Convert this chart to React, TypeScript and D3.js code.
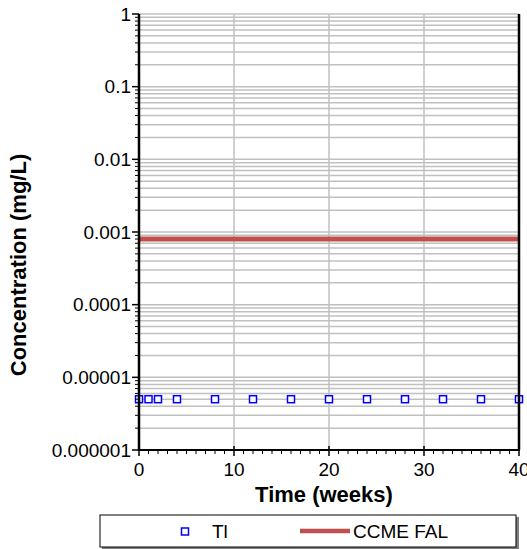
import React from "react";
import * as d3 from "d3";

const weeks = [0, 1, 2, 4, 8, 12, 16, 20, 24, 28, 32, 36, 40];
const tlValues = [0.000005, 0.000005, 0.000005, 0.000005, 0.000005, 0.000005, 0.000005, 0.000005, 0.000005, 0.000005, 0.000005, 0.000005, 0.000005];
const ccmeFal = 0.0008;
const xTicks = [0, 10, 20, 30, 40];
const yTicks = [1, 0.1, 0.01, 0.001, 0.0001, 0.00001, 0.000001];
const yTickLabels = ["1", "0.1", "0.01", "0.001", "0.0001", "0.00001", "0.000001"];
const seriesNames = ["Tl", "CCME FAL"];

const W = 527;
const H = 549;
const left = 139;
const right = 519;
const top = 14;
const bottom = 450;
const font = "Liberation Sans, Arial, sans-serif";

export default function App() {
  const x = d3.scaleLinear().domain([0, 40]).range([left, right]);
  const y = d3.scaleLog().domain([0.000001, 1]).range([bottom, top]);

  const minorY: number[] = [];
  for (let e = -6; e < 0; e++) {
    for (let m = 2; m <= 9; m++) minorY.push(m * Math.pow(10, e));
  }
  const minorX = d3.range(0, 41, 1).filter((v) => v % 10 !== 0);
  const line = d3.line<number>().x((d) => x(d)).y(() => y(ccmeFal));

  return (
    <div style={{ position: "absolute", left: 0, top: 0 }}>
      <svg width={W} height={H} style={{ display: "block", background: "#fff" }} fontFamily={font}>
        {/* grid */}
        {minorY.map((v, i) => (
          <line key={"my" + i} x1={left} x2={right} y1={y(v)} y2={y(v)} stroke="#c0c0c0" strokeWidth={1.5} />
        ))}
        {yTicks.map((v, i) => (
          <line key={"gy" + i} x1={left} x2={right} y1={y(v)} y2={y(v)} stroke="#c0c0c0" strokeWidth={1.5} />
        ))}
        {xTicks.slice(1, -1).map((v, i) => (
          <line key={"gx" + i} x1={x(v)} x2={x(v)} y1={top} y2={bottom} stroke="#c0c0c0" strokeWidth={1.5} />
        ))}
        {/* CCME line */}
        <path d={line([0, 40]) || ""} stroke="#c0504d" strokeWidth={5} fill="none" />
        {/* markers */}
        {weeks.map((w, i) => (
          <rect key={"p" + i} x={x(w) - 3.5} y={y(tlValues[i]) - 3.5} width={7} height={7} fill="#fff" stroke="#0000ff" strokeWidth={1.5} />
        ))}
        {/* borders */}
        <line x1={right} x2={right} y1={top} y2={bottom} stroke="#000" strokeWidth={2.5} />
        <line x1={left} x2={left} y1={top} y2={bottom + 1} stroke="#000" strokeWidth={2.5} />
        <line x1={left - 1} x2={right + 1} y1={bottom} y2={bottom} stroke="#000" strokeWidth={2} />
        {/* y ticks */}
        {yTicks.map((v, i) => (
          <line key={"ty" + i} x1={left - 7} x2={left} y1={y(v)} y2={y(v)} stroke="#000" strokeWidth={1.5} />
        ))}
        {minorY.map((v, i) => (
          <line key={"tmy" + i} x1={left - 4} x2={left} y1={y(v)} y2={y(v)} stroke="#000" strokeWidth={1} />
        ))}
        {yTicks.map((v, i) => (
          <text key={"ly" + i} x={left - 8} y={y(v)} dy="0.35em" textAnchor="end" fontSize={19} fill="#000">
            {yTickLabels[i]}
          </text>
        ))}
        {/* x ticks */}
        {xTicks.map((v, i) => (
          <line key={"tx" + i} x1={x(v)} x2={x(v)} y1={bottom - 4} y2={bottom + 6} stroke="#000" strokeWidth={1.5} />
        ))}
        {minorX.map((v, i) => (
          <line key={"tmx" + i} x1={x(v)} x2={x(v)} y1={bottom} y2={bottom + 4} stroke="#000" strokeWidth={1} />
        ))}
        {xTicks.map((v, i) => (
          <text key={"lx" + i} x={x(v)} y={469} dy="0.35em" textAnchor="middle" fontSize={19} fill="#000">
            {v}
          </text>
        ))}
        {/* axis titles */}
        <text x={324} y={502} textAnchor="middle" fontSize={22} fontWeight="bold">
          Time (weeks)
        </text>
        <text transform={`translate(26,265) rotate(-90)`} textAnchor="middle" fontSize={22} fontWeight="bold">
          Concentration (mg/L)
        </text>
        {/* legend */}
        <rect x={102} y={517} width={417} height={32} fill="#808080" />
        <rect x={100} y={515} width={416} height={32} fill="#fff" stroke="#000" strokeWidth={1} />
        <rect x={181.5} y={528} width={7} height={7} fill="#fff" stroke="#0000ff" strokeWidth={1.5} />
        <text x={212} y={531} dy="0.35em" fontSize={19}>{seriesNames[0]}</text>
        <line x1={300} x2={350} y1={531} y2={531} stroke="#c0504d" strokeWidth={4.5} />
        <text x={353} y={531} dy="0.35em" fontSize={19}>{seriesNames[1]}</text>
      </svg>
    </div>
  );
}
